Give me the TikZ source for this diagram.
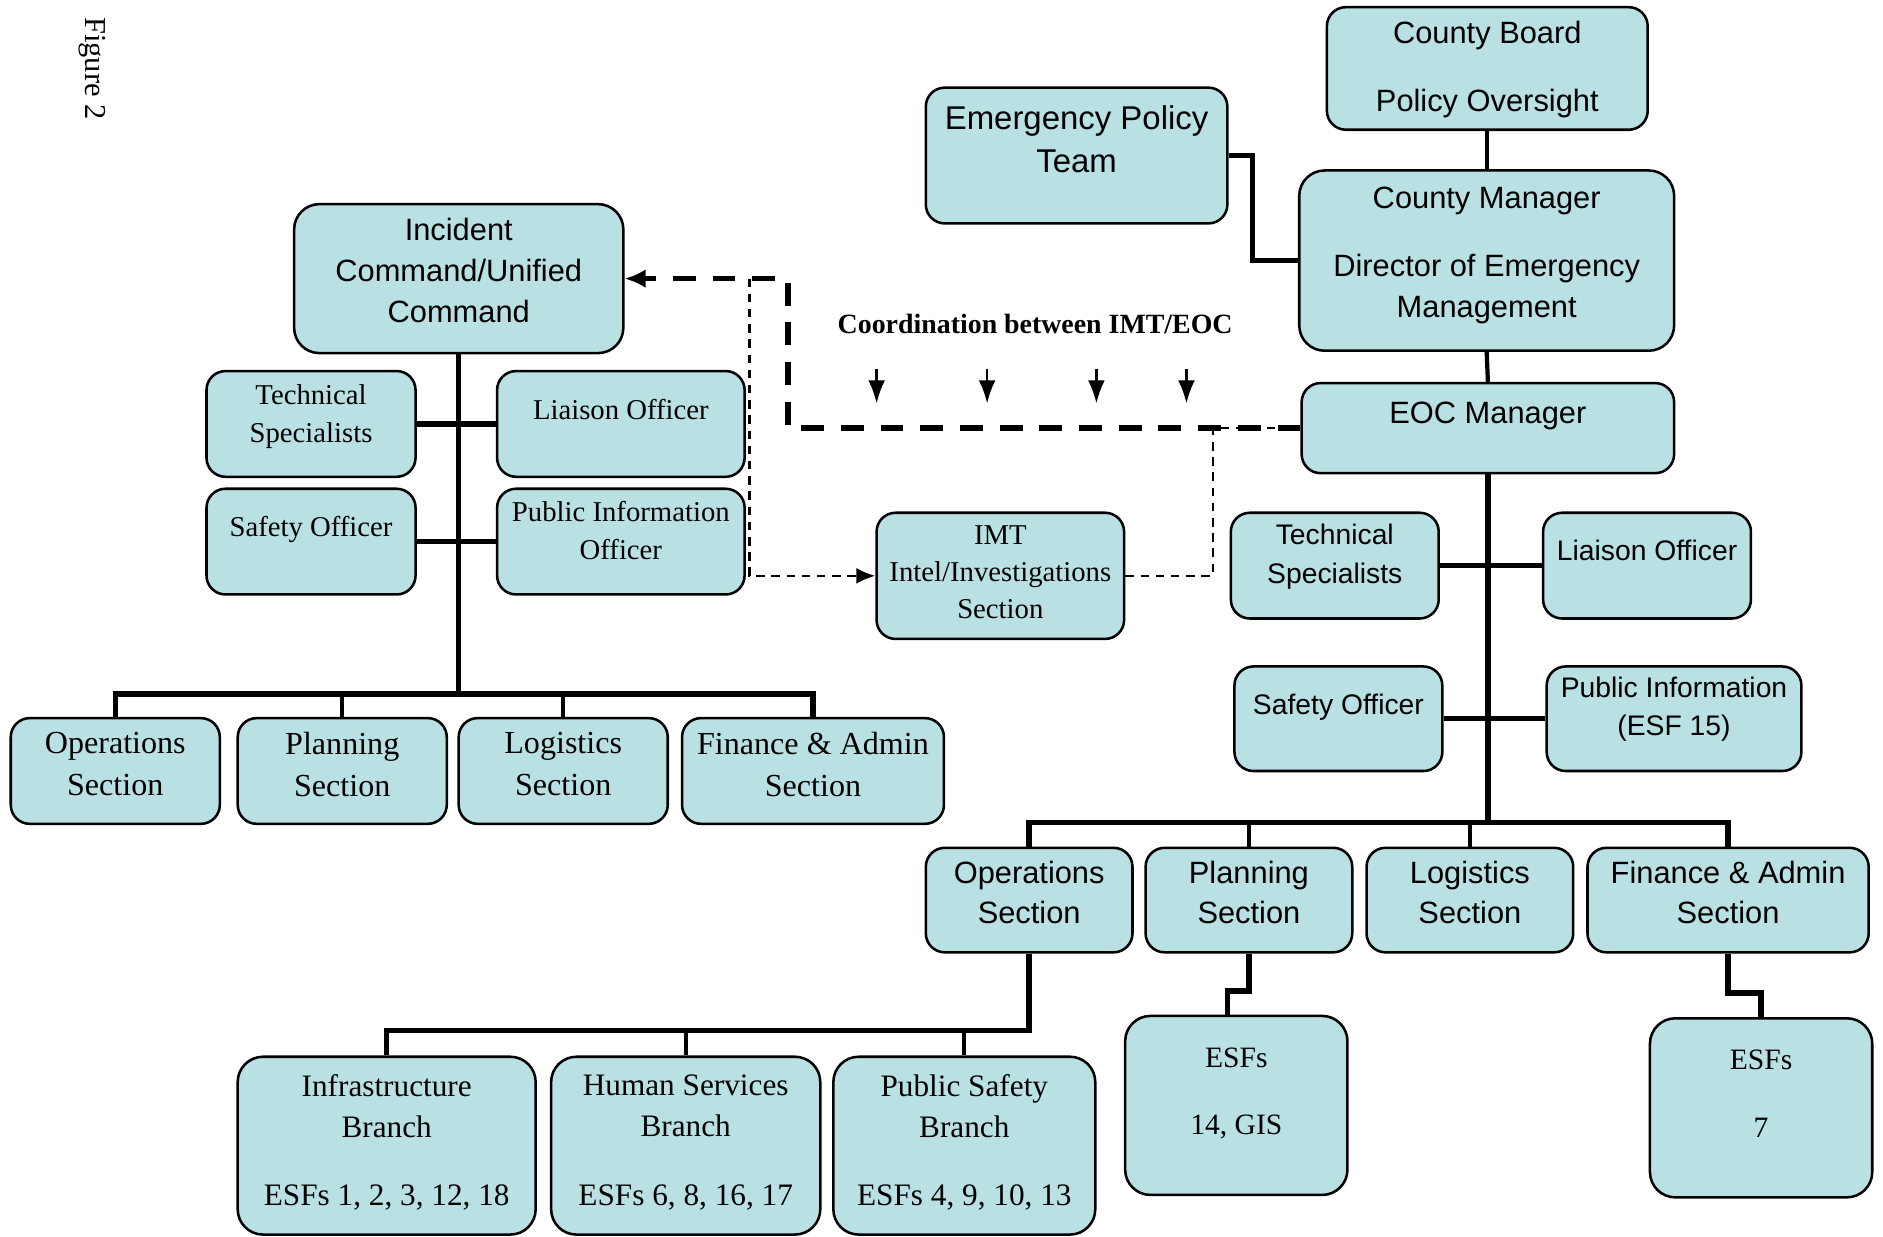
\documentclass[tikz,border=0pt]{standalone}
\usepackage{fontspec}
\setmainfont{Liberation Serif}
\setsansfont{Liberation Sans}
\usetikzlibrary{arrows.meta}
\definecolor{boxblue}{RGB}{185,224,227}
\tikzset{
  box/.style={draw, line width=0.6pt, fill=boxblue, rounded corners=4.5pt, inner sep=0pt},
  sanstext/.style={font=\sffamily\fontsize{7.3}{9.7}\selectfont, align=center},
  sanssmall/.style={font=\sffamily\fontsize{6.7}{9.1}\selectfont, align=center},
  serifsmall/.style={font=\fontsize{6.8}{9.1}\selectfont, align=center},
  seriflarge/.style={font=\fontsize{7.6}{10}\selectfont, align=center},
  solidlink/.style={line width=1.3pt},
  droplink/.style={line width=1pt},
  thickdash/.style={line width=1.3pt, dash pattern=on 5.4pt off 4pt},
  thindash/.style={line width=0.6pt, dash pattern=on 2pt off 1.6pt},
  coordarrow/.style={line width=0.6pt, -{Latex[length=5.5pt,width=4pt]}}
}
\begin{document}
\begin{tikzpicture}[x=0.01cm, y=-0.01cm]
  \useasboundingbox (0,0) rectangle (1568,1030);
  % Beschriftung
  \node[font=\fontsize{7.2}{8}\selectfont, rotate=-90] (figlabel) at (77,57) {Figure 2};
  % Einsatzleitung (links)
  \node[box, minimum width=2.74cm, minimum height=1.24cm, rounded corners=6pt,
        label={[sanstext, yshift=2pt]center:{Incident\\Command/Unified\\Command}}] (ic) at (382,232) {};
  \node[box, minimum width=1.74cm, minimum height=0.88cm,
        label={[serifsmall, yshift=1.8pt]center:{Technical\\Specialists}}] (ltech) at (259,353) {};
  \node[box, minimum width=2.06cm, minimum height=0.88cm,
        label={[serifsmall, yshift=3.4pt]center:{Liaison Officer}}] (lliaison) at (517,353) {};
  \node[box, minimum width=1.74cm, minimum height=0.88cm,
        label={[serifsmall, yshift=2.8pt]center:{Safety Officer}}] (lsafety) at (259,451) {};
  \node[box, minimum width=2.06cm, minimum height=0.88cm,
        label={[serifsmall, yshift=2.6pt]center:{Public Information\\Officer}}] (lpio) at (517,451) {};
  \node[box, minimum width=1.74cm, minimum height=0.88cm,
        label={[seriflarge, yshift=1.6pt]center:{Operations\\Section}}] (lops) at (96,642) {};
  \node[box, minimum width=1.74cm, minimum height=0.88cm,
        label={[seriflarge, yshift=1.6pt]center:{Planning\\Section}}] (lplan) at (285,642) {};
  \node[box, minimum width=1.74cm, minimum height=0.88cm,
        label={[seriflarge, yshift=1.6pt]center:{Logistics\\Section}}] (llog) at (469,642) {};
  \node[box, minimum width=2.18cm, minimum height=0.88cm,
        label={[seriflarge, yshift=1.6pt]center:{Finance \& Admin\\Section}}] (lfin) at (677,642) {};
  % IMT
  \node[box, minimum width=2.06cm, minimum height=1.05cm,
        label={[serifsmall, font=\fontsize{6.8}{8.7}\selectfont, yshift=0.9pt]center:{IMT\\Intel/Investigations\\Section}}] (imt) at (833,479.5) {};
  % Verwaltung (rechts)
  \node[box, minimum width=2.67cm, minimum height=1.02cm,
        label={[sanstext, yshift=-0.2pt]center:{County Board\\[6.5pt]Policy Oversight}}] (board) at (1238.5,57) {};
  \node[box, minimum width=2.51cm, minimum height=1.13cm,
        label={[sanstext, font=\sffamily\fontsize{7.8}{10.2}\selectfont, yshift=3.8pt]center:{Emergency Policy\\Team}}] (ept) at (896.5,129.5) {};
  \node[box, minimum width=3.12cm, minimum height=1.50cm, rounded corners=6pt,
        label={[sanstext, yshift=1.2pt]center:{County Manager\\[6.3pt]Director of Emergency\\Management}}] (manager) at (1238,217) {};
  \node[box, minimum width=3.10cm, minimum height=0.75cm,
        label={[sanstext, yshift=3pt]center:{EOC Manager}}] (eoc) at (1239,356.5) {};
  \node[box, minimum width=1.73cm, minimum height=0.88cm,
        label={[sanssmall, yshift=2.1pt]center:{Technical\\Specialists}}] (rtech) at (1111.5,471) {};
  \node[box, minimum width=1.73cm, minimum height=0.88cm,
        label={[sanssmall, yshift=3.7pt]center:{Liaison Officer}}] (rliaison) at (1371.5,471) {};
  \node[box, minimum width=1.73cm, minimum height=0.87cm,
        label={[sanssmall, yshift=2.8pt]center:{Safety Officer}}] (rsafety) at (1114.5,598.5) {};
  \node[box, minimum width=2.12cm, minimum height=0.87cm,
        label={[sanssmall, yshift=2.2pt]center:{Public Information\\(ESF 15)}}] (rpio) at (1394,598.5) {};
  \node[box, minimum width=1.72cm, minimum height=0.87cm,
        label={[sanstext, yshift=1.8pt]center:{Operations\\Section}}] (rops) at (857,749.5) {};
  \node[box, minimum width=1.72cm, minimum height=0.87cm,
        label={[sanstext, yshift=1.8pt]center:{Planning\\Section}}] (rplan) at (1040,749.5) {};
  \node[box, minimum width=1.72cm, minimum height=0.87cm,
        label={[sanstext, yshift=1.8pt]center:{Logistics\\Section}}] (rlog) at (1224,749.5) {};
  \node[box, minimum width=2.34cm, minimum height=0.87cm,
        label={[sanstext, yshift=1.8pt]center:{Finance \& Admin\\Section}}] (rfin) at (1439,749.5) {};
  % Zweige
  \node[box, minimum width=2.48cm, minimum height=1.48cm, rounded corners=6pt,
        label={[seriflarge, font=\fontsize{7.4}{9.7}\selectfont, yshift=0.7pt]center:{Infrastructure\\Branch\\[6.5pt]ESFs 1, 2, 3, 12, 18}}] (infra) at (322,954) {};
  \node[box, minimum width=2.24cm, minimum height=1.48cm, rounded corners=6pt,
        label={[seriflarge, font=\fontsize{7.4}{9.7}\selectfont, yshift=0.7pt]center:{Human Services\\Branch\\[6.5pt]ESFs 6, 8, 16, 17}}] (human) at (571,954) {};
  \node[box, minimum width=2.18cm, minimum height=1.48cm, rounded corners=6pt,
        label={[seriflarge, font=\fontsize{7.4}{9.7}\selectfont, yshift=0.7pt]center:{Public Safety\\Branch\\[6.5pt]ESFs 4, 9, 10, 13}}] (pubsafe) at (803,954) {};
  \node[box, minimum width=1.85cm, minimum height=1.49cm, rounded corners=6pt,
        label={[seriflarge, font=\fontsize{7}{9.7}\selectfont, yshift=2.8pt]center:{ESFs\\[6.3pt]14, GIS}}] (esfplan) at (1029.5,920.5) {};
  \node[box, minimum width=1.85cm, minimum height=1.49cm, rounded corners=6pt,
        label={[seriflarge, font=\fontsize{7}{9.7}\selectfont, yshift=3.3pt]center:{ESFs\\[6.3pt]7}}] (esffin) at (1466.5,922.5) {};
  % Verbindungen links
  \coordinate (lbar) at (382,578);
  \draw[solidlink] (ic.south) -- (lbar);
  \draw[solidlink] (lops.north) -- (lops.north |- lbar) -- (lfin.north |- lbar) -- (lfin.north);
  \foreach \n in {lplan,llog}
    \draw[droplink] (\n.north |- lbar) -- (\n.north);
  \draw[solidlink] (ltech.east) -- (lliaison.west);
  \draw[solidlink] (lsafety.east) -- (lpio.west);
  % Verbindungen rechts
  \coordinate (rbar) at (1239,685);
  \draw[droplink] (board.south) -- (manager.north -| board.south);
  \draw[droplink] (manager.south) -- (eoc.north);
  \draw[solidlink] (ept.east) -- ++(20,0) |- (manager.west);
  \draw[solidlink] (eoc.south) -- (rbar);
  \draw[solidlink] (rops.north) -- (rops.north |- rbar) -- (rfin.north |- rbar) -- (rfin.north);
  \foreach \n in {rplan,rlog}
    \draw[droplink] (\n.north |- rbar) -- (\n.north);
  \draw[solidlink] (rtech.east) -- (rliaison.west);
  \draw[solidlink] (rsafety.east) -- (rpio.west);
  % Zweige
  \coordinate (obar) at (857,858);
  \draw[solidlink] (rops.south) -- (obar) -- (infra.north |- obar) -- (infra.north);
  \foreach \n in {human,pubsafe}
    \draw[droplink] (\n.north |- obar) -- (\n.north);
  \draw[solidlink] (rplan.south) -- ++(0,31) -| ([xshift=-0.075cm]esfplan.north);
  \draw[solidlink] (rfin.south) -- ++(0,33) -| (esffin.north);
  % Koordination IMT/EOC
  \coordinate (icjoin) at (624,232);
  \coordinate (eocjoin) at (1010,356.5);
  \draw[thickdash, -{Latex[length=5pt,width=4.5pt]}] (eoc.west) -| (656,232) -- (ic.east);
  \draw[thindash, -{Latex[length=4.5pt,width=3.8pt]}] (icjoin) |- (imt.west);
  \draw[thindash] (imt.east) -| (eocjoin) -- (eoc.west);
  \node[font=\bfseries\fontsize{6.6}{8}\selectfont] (coordlabel) at (862,270) {Coordination between IMT/EOC};
  \foreach \x in {730,822,913,988}
    \draw[coordarrow] (\x,307) -- (\x,336);
\end{tikzpicture}
\end{document}
